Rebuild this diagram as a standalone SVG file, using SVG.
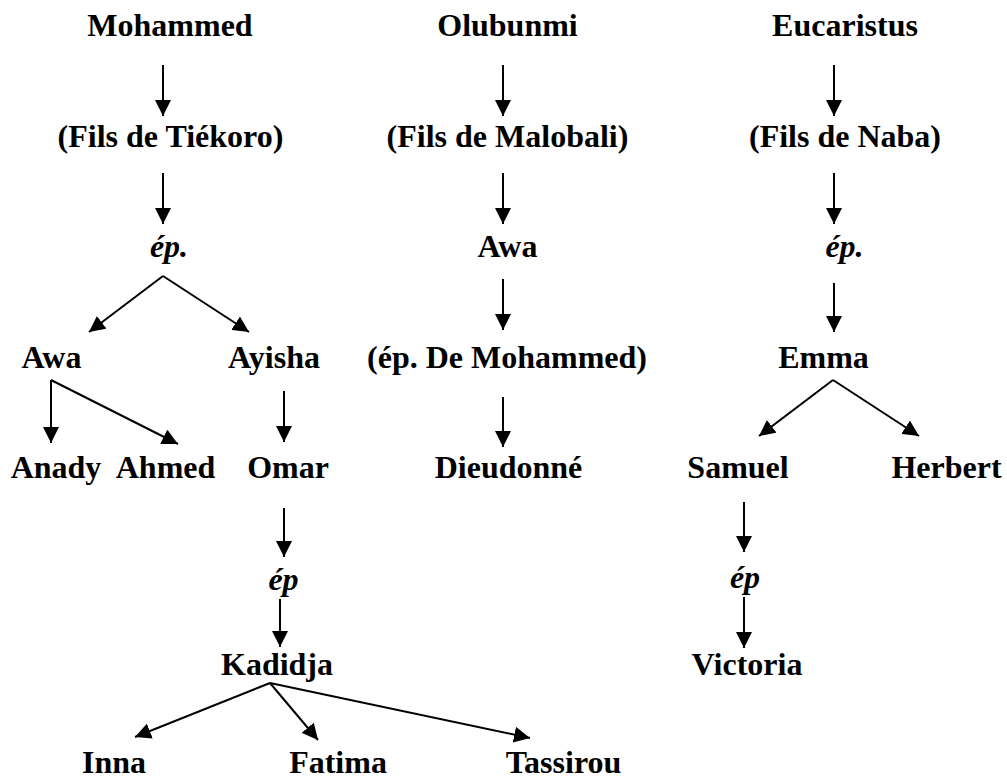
<svg xmlns="http://www.w3.org/2000/svg" width="1007" height="779" viewBox="0 0 1007 779">
<style>
text{font-family:"Liberation Serif","Times New Roman",serif;font-weight:bold;font-size:32px;fill:#000;text-anchor:middle}
text.it{font-style:italic}
.c line{stroke:#000;stroke-width:2;marker-end:url(#ah)}
</style>
<defs>
<marker id="ah" viewBox="0 0 10 10" refX="10" refY="5" markerWidth="8" markerHeight="8" orient="auto" markerUnits="strokeWidth">
<path d="M0,0 L10,5 L0,10 z" fill="#000"/>
</marker>
</defs>
<rect width="1007" height="779" fill="#fff"/>
<g id="mohammed"><text x="170" y="36">Mohammed</text></g>
<g id="fils-tiekoro"><text x="170.5" y="147">(Fils de Tiékoro)</text></g>
<g id="ep1"><text class="it" x="169" y="257">ép.</text></g>
<g id="awa1"><text x="51.5" y="368">Awa</text></g>
<g id="ayisha"><text x="274" y="368">Ayisha</text></g>
<g id="anady"><text x="56" y="478">Anady</text></g>
<g id="ahmed"><text x="165.5" y="478">Ahmed</text></g>
<g id="omar"><text x="288" y="478">Omar</text></g>
<g id="ep2"><text class="it" x="283.5" y="590">ép</text></g>
<g id="kadidja"><text x="277" y="675">Kadidja</text></g>
<g id="inna"><text x="114" y="773">Inna</text></g>
<g id="fatima"><text x="338" y="773">Fatima</text></g>
<g id="tassirou"><text x="563.5" y="773">Tassirou</text></g>
<g id="olubunmi"><text x="507.5" y="36">Olubunmi</text></g>
<g id="fils-malobali"><text x="507.5" y="147">(Fils de Malobali)</text></g>
<g id="awa2"><text x="507.5" y="257">Awa</text></g>
<g id="ep-mohammed"><text x="507" y="368">(ép. De Mohammed)</text></g>
<g id="dieudonne"><text x="508.5" y="478">Dieudonné</text></g>
<g id="eucaristus"><text x="845" y="36">Eucaristus</text></g>
<g id="fils-naba"><text x="845" y="147">(Fils de Naba)</text></g>
<g id="ep3"><text class="it" x="844.5" y="257">ép.</text></g>
<g id="emma"><text x="823.5" y="368">Emma</text></g>
<g id="samuel"><text x="738" y="478">Samuel</text></g>
<g id="herbert"><text x="946.5" y="478">Herbert</text></g>
<g id="ep4"><text class="it" x="745" y="588">ép</text></g>
<g id="victoria"><text x="747" y="675">Victoria</text></g>
<g id="connectors" class="c">
<line x1="163" y1="65" x2="163" y2="116"/>
<line x1="163" y1="173" x2="163" y2="224"/>
<line x1="163" y1="276" x2="89" y2="332"/>
<line x1="163" y1="276" x2="249" y2="332"/>
<line x1="51" y1="380" x2="51" y2="443"/>
<line x1="51" y1="380" x2="178" y2="444"/>
<line x1="284" y1="391" x2="284" y2="442"/>
<line x1="284" y1="508" x2="284" y2="557"/>
<line x1="280" y1="599" x2="280" y2="647"/>
<line x1="270" y1="683" x2="135" y2="737"/>
<line x1="270" y1="683" x2="318" y2="740"/>
<line x1="270" y1="683" x2="530" y2="738"/>
<line x1="503" y1="65" x2="503" y2="116"/>
<line x1="503" y1="173" x2="503" y2="224"/>
<line x1="503" y1="279" x2="503" y2="330"/>
<line x1="503" y1="397" x2="503" y2="447"/>
<line x1="834" y1="65" x2="834" y2="116"/>
<line x1="834" y1="173" x2="834" y2="224"/>
<line x1="834" y1="283" x2="834" y2="332"/>
<line x1="833" y1="380" x2="759" y2="436"/>
<line x1="833" y1="380" x2="919" y2="436"/>
<line x1="744" y1="502" x2="744" y2="552"/>
<line x1="744" y1="597" x2="744" y2="648"/>
</g>
</svg>
